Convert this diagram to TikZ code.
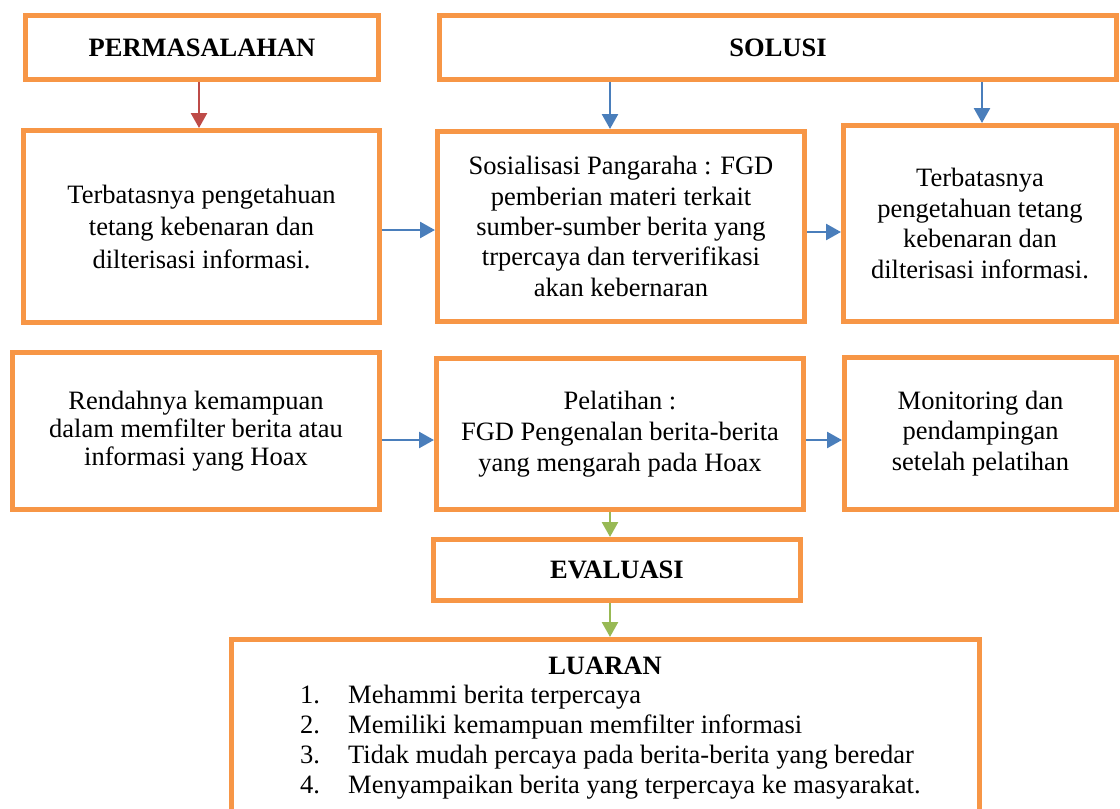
\documentclass[tikz,border=0pt]{standalone}
\usepackage{fontspec}
\setmainfont{Liberation Serif}
\usetikzlibrary{arrows.meta}
\definecolor{boxorange}{HTML}{F79646}
\definecolor{arrblue}{HTML}{4A7EBB}
\definecolor{arrred}{HTML}{BE4B48}
\definecolor{arrgreen}{HTML}{98B954}
\begin{document}
\begin{tikzpicture}[x=1pt,y=-1pt,
  box/.style={draw=boxorange, line width=5pt, rectangle, align=center, inner sep=0pt,
    font=\fontsize{26.5}{#1}\selectfont},
  box/.default=30.5,
  titlebox/.style={box, font=\fontsize{26.5}{30.5}\selectfont\bfseries},
  conn/.style={line width=2.6pt, -{Triangle[length=15pt,width=16pt]}},
]
\useasboundingbox[fill=white] (0,0) rectangle (1120,809);

% top row titles
\node[titlebox, minimum width=353pt, minimum height=64pt] (perm) at (202,47.5) {PERMASALAHAN};
\node[titlebox, minimum width=677pt, minimum height=64pt] (solusi) at (778,47.5) {SOLUSI};

% row 1
\node[box=32.5, minimum width=356pt, minimum height=192pt] (b11) at (201.5,226.5)
  {Terbatasnya pengetahuan\\tetang kebenaran dan\\dilterisasi informasi.};
\node[box=30.3, minimum width=367pt, minimum height=190pt] (b12) at (621,226.5)
  {Sosialisasi Pangaraha : FGD\\pemberian materi terkait\\sumber-sumber berita yang\\trpercaya dan terverifikasi\\akan kebernaran};
\node[box=30.5, minimum width=273pt, minimum height=196pt] (b13) at (980,223.5)
  {Terbatasnya\\pengetahuan tetang\\kebenaran dan\\dilterisasi informasi.};

% row 2
\node[box=28, minimum width=367pt, minimum height=157pt] (b21) at (196,431)
  {Rendahnya kemampuan\\dalam memfilter berita atau\\informasi yang Hoax};
\node[box=31, minimum width=367pt, minimum height=151pt] (b22) at (620,434)
  {Pelatihan :\\FGD Pengenalan berita-berita\\yang mengarah pada Hoax};
\node[box=30.5, minimum width=272pt, minimum height=152pt] (b23) at (980.5,433.5)
  {Monitoring dan\\pendampingan\\setelah pelatihan};

% evaluasi
\node[titlebox, minimum width=367pt, minimum height=61pt] (eval) at (617,570) {EVALUASI};

% luaran
\node[box, minimum width=748pt, minimum height=175.5pt] (luaran) at (605.5,727.25) {};
\node[inner sep=0pt, anchor=base, font=\fontsize{26.5}{30}\selectfont\bfseries] (luarantitle) at (605,674) {LUARAN};
\node[inner sep=0pt, anchor=base west, align=left, font=\fontsize{26.5}{29.7}\selectfont] (luaranlist) at (300,793)
  {\makebox[48pt][l]{1.}Mehammi berita terpercaya\\
   \makebox[48pt][l]{2.}Memiliki kemampuan memfilter informasi\\
   \makebox[48pt][l]{3.}Tidak mudah percaya pada berita-berita yang beredar\\
   \makebox[48pt][l]{4.}Menyampaikan berita yang terpercaya ke masyarakat.};

% connectors
\draw[conn, draw=arrred, fill=arrred] ([xshift=-3pt]perm.south) -- ([xshift=-3pt]perm.south |- b11.north);
\draw[conn, draw=arrblue, fill=arrblue] ([xshift=-11pt]b12.north |- solusi.south) -- ([xshift=-11pt]b12.north);
\draw[conn, draw=arrblue, fill=arrblue] ([xshift=2pt]b13.north |- solusi.south) -- ([xshift=2pt]b13.north);
\draw[conn, draw=arrblue, fill=arrblue] ([yshift=-3.5pt]b11.east) -- ([yshift=-3.5pt]b11.east -| b12.west);
\draw[conn, draw=arrblue, fill=arrblue] ([yshift=-5.5pt]b12.east) -- ([yshift=-5.5pt]b12.east -| b13.west);
\draw[conn, draw=arrblue, fill=arrblue] ([yshift=-9pt]b21.east) -- ([yshift=-9pt]b21.east -| b22.west);
\draw[conn, draw=arrblue, fill=arrblue] ([yshift=-6pt]b22.east) -- ([yshift=-6pt]b22.east -| b23.west);
\draw[conn, draw=arrgreen, fill=arrgreen] ([xshift=-10pt]b22.south) -- ([xshift=-10pt]b22.south |- eval.north);
\draw[conn, draw=arrgreen, fill=arrgreen] ([xshift=-7pt]eval.south) -- ([xshift=-7pt]eval.south |- luaran.north);
\end{tikzpicture}
\end{document}
